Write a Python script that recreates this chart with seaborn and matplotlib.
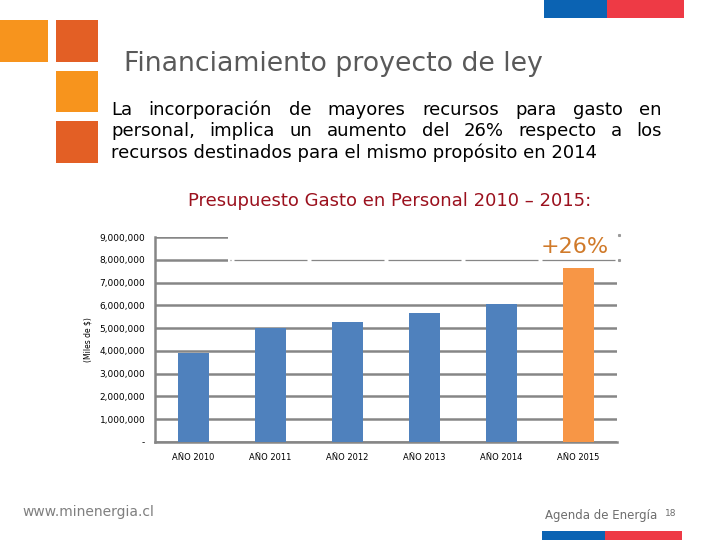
import numpy as np
import pandas as pd
import matplotlib
matplotlib.use('Agg')
import matplotlib.pyplot as plt
import seaborn as sns
from matplotlib.patches import Rectangle
from matplotlib.ticker import FuncFormatter, FixedLocator

# data
years = ['AÑO 2010', 'AÑO 2011', 'AÑO 2012', 'AÑO 2013', 'AÑO 2014', 'AÑO 2015']
gasto = [3_900_000, 4_990_000, 5_260_000, 5_670_000, 6_040_000, 7_620_000]
bar_colors = ['#4F81BD', '#4F81BD', '#4F81BD', '#4F81BD', '#4F81BD', '#F79646']
y_ticks = [0, 1_000_000, 2_000_000, 3_000_000, 4_000_000, 5_000_000,
           6_000_000, 7_000_000, 8_000_000, 9_000_000]

df = pd.DataFrame({'anio': years, 'gasto': gasto})

sns.set_style('white')
plt.rcParams['font.family'] = ['DejaVu Sans']
plt.rcParams['text.color'] = 'black'
plt.rcParams['xtick.labelcolor'] = 'black'
plt.rcParams['ytick.labelcolor'] = 'black'
plt.rcParams['axes.labelcolor'] = 'black'

W, H = 720, 540
fig = plt.figure(figsize=(7.2, 5.4), dpi=100)


def px_rect(x, y, w, h, color):
    # rectangle given in pixel coords, origin top-left
    fig.add_artist(Rectangle((x / W, 1 - (y + h) / H), w / W, h / H,
                             transform=fig.transFigure, color=color, lw=0))


def px_text(x, y, s, **kw):
    return fig.text(x / W, 1 - y / H, s, **kw)


# slide decoration
px_rect(0, 20, 48, 42, '#F7941D')
px_rect(56, 20, 42, 42, '#E35F25')
px_rect(56, 71, 42, 41, '#F7941D')
px_rect(56, 121, 42, 42, '#E35F25')
px_rect(544, 0, 63, 18, '#0B63B3')
px_rect(607, 0, 77, 18, '#EE3A45')
px_rect(542, 531, 63, 9, '#0B63B3')
px_rect(605, 531, 77, 9, '#EE3A45')

px_text(124, 64, 'Financiamiento proyecto de ley', fontsize=19.3,
        color='#595959', va='center', ha='left')

# justified paragraph
body = ['La incorporación de mayores recursos para gasto en',
        'personal, implica un aumento del 26% respecto a los',
        'recursos destinados para el mismo propósito en 2014']
body_y = [110, 131, 153]
left, right = 111, 662
renderer = fig.canvas.get_renderer()
for i, (line, yy) in enumerate(zip(body, body_y)):
    if i == len(body) - 1:
        px_text(left, yy, line, fontsize=13, va='center', ha='left')
        continue
    words = line.split()
    arts = [px_text(0, yy, w, fontsize=13, va='center', ha='left') for w in words]
    widths = [a.get_window_extent(renderer).width for a in arts]
    gap = (right - left - sum(widths)) / (len(words) - 1)
    xx = left
    for a, wd in zip(arts, widths):
        a.set_x(xx / W)
        xx += wd + gap

px_text(390, 201, 'Presupuesto Gasto en Personal 2010 – 2015:', fontsize=13,
        color='#9B111E', va='center', ha='center')

# chart
ax = fig.add_axes([155 / W, 98 / H, 462 / W, 205 / H])
sns.barplot(data=df, x='anio', y='gasto', hue='anio', palette=bar_colors,
            legend=False, width=0.39, ax=ax, zorder=3, saturation=1, linewidth=0)
ax.set_xlim(-0.5, 5.5)
ax.set_ylim(0, 9_000_000)
ax.set_yticks(y_ticks)
ax.yaxis.set_major_formatter(FuncFormatter(lambda v, p: '-' if v == 0 else f'{int(v):,}'))
ax.grid(axis='y', color='#868686', lw=1.8, zorder=1)
ax.set_axisbelow(True)
for s in ['top', 'right']:
    ax.spines[s].set_visible(False)
for s in ['left', 'bottom']:
    ax.spines[s].set_color('#868686')
    ax.spines[s].set_linewidth(1.8)
ax.tick_params(axis='y', length=4, width=1.2, color='#868686', labelsize=6.5, pad=3)
ax.tick_params(axis='x', which='major', length=0, labelsize=6, pad=8)
ax.xaxis.set_minor_locator(FixedLocator(np.arange(-0.5, 6, 1)))
ax.tick_params(axis='x', which='minor', length=4, width=1.2, color='#868686')
ax.set_xlabel('')
ax.set_ylabel('(Miles de $)', fontsize=5.5, labelpad=5)

# annotation box covering the upper grid
ax.add_patch(Rectangle((0.45, 7.85e6), 5.2, 1.4e6, color='white', lw=0,
                       zorder=2, clip_on=False))
for i in range(6):
    x0 = max(i - 0.5, 0.47) + 0.02
    ax.hlines(8.0e6, x0, i + 0.5 - 0.02, color='#868686', lw=0.9, zorder=4)
ax.plot([5.52, 5.52], [8.0e6, 9.1e6], ls='none', marker='s', ms=1.2,
        color='#999999', clip_on=False, zorder=4)
ax.text(4.95, 8.55e6, '+26%', fontsize=16, color='#D07A2A', ha='center',
        va='center', zorder=5)

# footer
px_text(22, 512, 'www.minenergia.cl', fontsize=10, color='#7F7F7F',
        va='center', ha='left')
px_text(545, 515, 'Agenda de Energía', fontsize=8.5, color='#6D6D6D',
        va='center', ha='left')
px_text(665, 514, '18', fontsize=6.5, color='#6D6D6D', va='center', ha='left')

fig.savefig('out.png', dpi=100)
